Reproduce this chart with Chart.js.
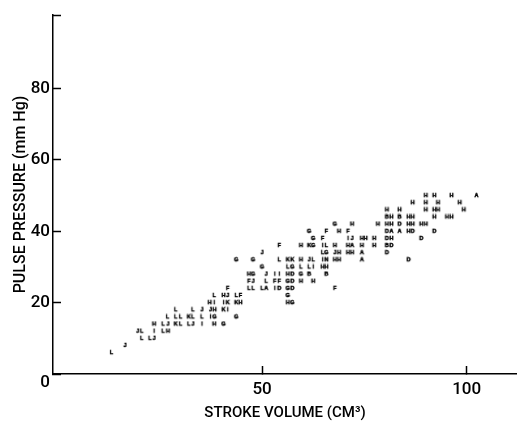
<!DOCTYPE html>
<html>
<head>
<meta charset="utf-8">
<style>
  html, body { margin: 0; padding: 0; background: #fff; }
  canvas { display: block; }
</style>
<script src="https://cdn.jsdelivr.net/npm/chart.js@4"></script>
</head>
<body>
<canvas id="grafica" width="517" height="422"></canvas>
<script>
// one line per pulse pressure level
const strokeVolume = [
  13.2,
  16.5,
  20.6, 22.6, 23.6,
  19.6, 20.6, 23.6, 25.8, 27,
  23.6, 25.8, 27, 28.9, 30.1, 32.1, 33.1, 35.3, 38.3, 40.6,
  26.9, 28.9, 30.1, 32.1, 33.1, 35.3, 37.4, 38.4, 43.7,
  28.9, 33.1, 35.3, 37.4, 38.4, 40.6, 41.6,
  37.2, 38.3, 40.6, 41.6, 43.7, 44.7, 56.3, 57.4,
  38.3, 40.6, 41.6, 43.7, 44.7, 56.3,
  41.6, 46.8, 47.8, 50, 51, 53.1, 54.2, 56.3, 57.4, 67.8,
  46.8, 47.8, 51, 53.1, 54.2, 56.3, 57.4, 59.5, 62.5,
  46.8, 47.8, 51, 53.1, 54.2, 56.3, 57.4, 59.5, 61.5, 65.7,
  50, 56.3, 57.4, 59.5, 61.5, 62.5, 64.8, 65.7,
  43.7, 47.8, 54.2, 56.3, 57.4, 59.5, 61.5, 62.5, 64.8, 65.7, 67.8, 68.8, 74.4, 85.8,
  50, 64.8, 65.7, 67.8, 68.8, 71, 72, 74.4, 80.5,
  54.2, 59.5, 61.5, 62.5, 64.8, 65.7, 67.8, 71, 72, 74.4, 77.4, 80.5, 81.6,
  62.5, 64.8, 71, 72, 74.4, 75.3, 77.4, 80.5, 81.6, 88.9,
  61.5, 65.7, 68.8, 71, 80.5, 81.6, 83.6, 85.8, 86.8, 92.1,
  67.8, 72, 78.3, 80.5, 81.6, 83.6, 85.8, 86.8, 88.9, 90,
  80.5, 81.6, 83.6, 85.8, 86.8, 92.1, 95.2, 96.3,
  80.5, 83.6, 90, 92.1, 93, 99.3,
  86.8, 90, 93, 98.3,
  90, 92.1, 96.3, 102.4
];
const pulsePressure = [
  6,
  8,
  10, 10, 10,
  12, 12, 12, 12, 12,
  14, 14, 14, 14, 14, 14, 14, 14, 14, 14,
  16, 16, 16, 16, 16, 16, 16, 16, 16,
  18, 18, 18, 18, 18, 18, 18,
  20, 20, 20, 20, 20, 20, 20, 20,
  22, 22, 22, 22, 22, 22,
  24, 24, 24, 24, 24, 24, 24, 24, 24, 24,
  26, 26, 26, 26, 26, 26, 26, 26, 26,
  28, 28, 28, 28, 28, 28, 28, 28, 28, 28,
  30, 30, 30, 30, 30, 30, 30, 30,
  32, 32, 32, 32, 32, 32, 32, 32, 32, 32, 32, 32, 32, 32,
  34, 34, 34, 34, 34, 34, 34, 34, 34,
  36, 36, 36, 36, 36, 36, 36, 36, 36, 36, 36, 36, 36,
  38, 38, 38, 38, 38, 38, 38, 38, 38, 38,
  40, 40, 40, 40, 40, 40, 40, 40, 40, 40,
  42, 42, 42, 42, 42, 42, 42, 42, 42, 42,
  44, 44, 44, 44, 44, 44, 44, 44,
  46, 46, 46, 46, 46, 46,
  48, 48, 48, 48,
  50, 50, 50, 50
];
// the printed letter of every point
const letras = [
  "L",
  "J",
  "L", "L", "J",
  "J", "L", "I", "L", "H",
  "H", "L", "J", "K", "L", "L", "J", "I", "H", "G",
  "L", "L", "L", "K", "L", "L", "I", "G", "G",
  "L", "L", "J", "J", "H", "K", "I",
  "H", "I", "I", "K", "K", "H", "H", "G",
  "L", "H", "J", "L", "F", "G",
  "F", "L", "L", "L", "A", "I", "D", "G", "D", "F",
  "F", "J", "L", "F", "F", "G", "D", "H", "H",
  "H", "G", "J", "I", "I", "H", "D", "G", "B", "B",
  "G", "L", "G", "L", "L", "I", "H", "H",
  "G", "G", "L", "K", "K", "H", "J", "L", "I", "N", "H", "H", "A", "D",
  "J", "L", "G", "J", "H", "H", "H", "A", "D",
  "F", "H", "K", "G", "I", "L", "H", "H", "A", "H", "H", "B", "D",
  "G", "F", "I", "J", "H", "H", "H", "D", "H", "D",
  "G", "F", "H", "F", "D", "A", "A", "H", "D", "D",
  "G", "H", "H", "H", "H", "D", "H", "H", "H", "H",
  "B", "H", "B", "H", "H", "H", "H", "H",
  "H", "H", "H", "H", "H", "H",
  "H", "H", "H", "H",
  "H", "H", "H", "A"
];
const ticksX = [50, 100];
const ticksY = [0, 20, 40, 60, 80, 100.6];

const fuenteNumeros = { family: "Roboto", weight: "500", size: 17 };
const fuenteTituloX = { family: "Roboto", weight: "500", size: 15, lineHeight: 1 };
const fuenteTituloY = { family: "Roboto", weight: "500", size: 16, lineHeight: 1 };

const cacheLetras = {};
const getLetra = (letra) => {
  if (!cacheLetras[letra]) {
    const c = document.createElement("canvas");
    c.width = 7;
    c.height = 7;
    const g = c.getContext("2d");
    g.font = 'bold 5.5px "Liberation Sans"';
    g.textAlign = "center";
    g.textBaseline = "middle";
    g.fillStyle = "#000";
    g.strokeStyle = "#000";
    g.lineWidth = 0.5;
    g.fillText(letra, 3.5, 3.5);
    g.strokeText(letra, 3.5, 3.5);
    cacheLetras[letra] = c;
  }
  return cacheLetras[letra];
};

const puntos = strokeVolume.map((x, i) => ({ x, y: pulsePressure[i] }));

new Chart(document.querySelector("#grafica"), {
  type: "scatter",
  data: {
    datasets: [{
      data: puntos,
      pointStyle: letras.map(getLetra),
      pointRadius: 3,
      showLine: false,
      clip: false
    }]
  },
  options: {
    responsive: false,
    animation: false,
    devicePixelRatio: 1,
    layout: { autoPadding: false, padding: { top: 15, left: 0, right: 0, bottom: 0 } },
    plugins: { legend: { display: false }, tooltip: { enabled: false } },
    scales: {
      x: {
        type: "linear",
        min: -1.1,
        max: 112.3,
        afterBuildTicks: (eje) => { eje.ticks = ticksX.map((value) => ({ value })); },
        afterFit: (eje) => { eje.height = 48; eje.paddingRight = 0; eje.paddingLeft = 0; },
        grid: { drawOnChartArea: false, tickLength: -8, tickWidth: 1.5, tickColor: "#000" },
        border: { color: "#000", width: 1.5 },
        ticks: { color: "#000", font: fuenteNumeros, padding: 14, maxRotation: 0 },
        title: {
          display: true,
          text: "STROKE VOLUME (CM³)",
          color: "#000",
          font: fuenteTituloX,
          padding: { top: 0, bottom: 1 }
        }
      },
      y: {
        type: "linear",
        min: 0,
        max: 100.6,
        afterBuildTicks: (eje) => { eje.ticks = ticksY.map((value) => ({ value })); },
        afterFit: (eje) => { eje.width = 53; eje.paddingTop = 0; eje.paddingBottom = 0; },
        grid: { drawOnChartArea: false, tickLength: -8, tickWidth: 1.5, tickColor: "#000" },
        border: { color: "#000", width: 1.5 },
        ticks: {
          color: "#000",
          font: { ...fuenteNumeros, lineHeight: 1 },
          padding: 11,
          callback: (valor) => {
            if (valor === 0) return ["", "0"];
            return valor > 80 ? "" : String(valor);
          }
        },
        title: {
          display: true,
          text: "PULSE PRESSURE (mm Hg)",
          color: "#000",
          font: fuenteTituloY,
          padding: { top: 13, bottom: 0 }
        }
      }
    }
  }
});
</script>
</body>
</html>
